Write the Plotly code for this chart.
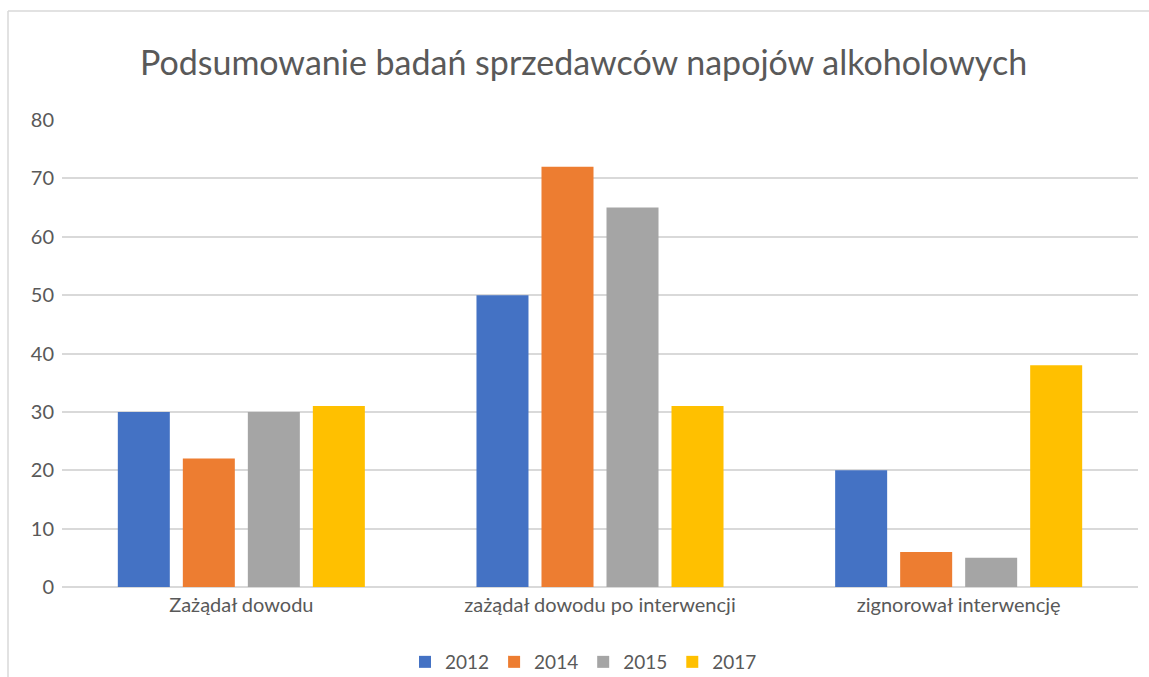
import plotly.graph_objects as go

# Survey results by category and year
categories = ["Zażądał dowodu", "zażądał dowodu po interwencji", "zignorował interwencję"]
years = ["2012", "2014", "2015", "2017"]
values_2012 = [30, 50, 20]
values_2014 = [22, 72, 6]
values_2015 = [30, 65, 5]
values_2017 = [31, 31, 38]
y_ticks = [0, 10, 20, 30, 40, 50, 60, 70, 80]

series = [values_2012, values_2014, values_2015, values_2017]
colors = ["#4472C4", "#ED7D31", "#A5A5A5", "#FFC000"]

W, H = 1149, 677
ML, MR, MT, MB = 62, 11, 120, 90
text_color = "#595959"
font_family = "Lato, Carlito, Calibri, sans-serif"

fig = go.Figure()
for name, vals, col in zip(years, series, colors):
    fig.add_trace(go.Bar(x=categories, y=vals, name=name, marker=dict(color=col, line=dict(width=0))))

pw = W - ML - MR
ph = H - MT - MB
frame_x = (8 - ML) / pw
frame_y = 1 + (MT - 11) / ph

fig.update_layout(
    width=W, height=H,
    margin=dict(l=ML, r=MR, t=MT, b=MB, pad=0),
    paper_bgcolor="white", plot_bgcolor="white",
    barmode="group", bargap=0.275, bargroupgap=0.2,
    font=dict(family=font_family, color=text_color, size=20),
    title=dict(
        text="Podsumowanie badań sprzedawców napojów alkoholowych",
        x=583.5 / W, xref="container", xanchor="center",
        y=1 - 63 / H, yref="container", yanchor="middle",
        font=dict(family=font_family, size=34, color=text_color),
    ),
    xaxis=dict(
        showgrid=False, showline=False, ticks="", ticklabelstandoff=4,
        tickfont=dict(size=20, color=text_color),
    ),
    yaxis=dict(
        range=[0, 80], tickvals=y_ticks, showgrid=True, gridcolor="#D9D9D9", gridwidth=2,
        zeroline=True, zerolinecolor="#D9D9D9", zerolinewidth=2,
        showline=False, ticks="", ticklen=0, ticklabelstandoff=7,
        tickfont=dict(size=20, color=text_color),
    ),
    legend=dict(
        orientation="h", x=583.5 / W, xref="container", xanchor="center",
        y=1 - 662 / H, yref="container", yanchor="middle",
        font=dict(size=19, color=text_color), itemwidth=30,
        traceorder="normal",
    ),
    shapes=[
        dict(type="line", xref="paper", yref="paper", x0=frame_x, x1=1.2, y0=frame_y, y1=frame_y,
             line=dict(color="#D9D9D9", width=1.5)),
        dict(type="line", xref="paper", yref="paper", x0=frame_x, x1=frame_x, y0=-0.5, y1=frame_y,
             line=dict(color="#D9D9D9", width=1.5)),
    ],
)

fig.write_html("out.html")
